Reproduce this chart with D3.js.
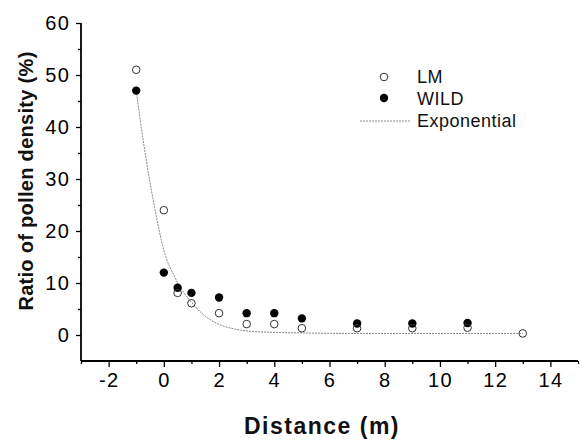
<!DOCTYPE html>
<html>
<head>
<meta charset="utf-8">
<script src="https://cdn.jsdelivr.net/npm/d3@7"></script>
<style>
  body { margin: 0; background: #fff; }
  svg text { font-family: "Liberation Sans", Arial, Helvetica, sans-serif; }
</style>
</head>
<body>
<svg id="chart" width="582" height="441"></svg>
<script>
// distances (m)
const lmX = [-1, 0, 0.5, 1, 2, 3, 4, 5, 7, 9, 11, 13]
const lmY = [51, 24, 8.1, 6.1, 4.2, 2.1, 2.1, 1.3, 1.3, 1.3, 1.4, 0.3]
const wildX = [-1, 0, 0.5, 1, 2, 3, 4, 5, 7, 9, 11]
const wildY = [47, 12, 9.1, 8.1, 7.2, 4.2, 4.2, 3.2, 2.2, 2.2, 2.3]
// exponential fit
const fitX = [-1, -0.73, -0.35, 0, 0.42, 1.08, 2.29, 3.5, 5, 7, 13]
const fitY = [47, 36.8, 25, 16.3, 10.9, 5.8, 1.5, 0.6, 0.4, 0.3, 0.3]

const xMajor = [-2, 0, 2, 4, 6, 8, 10, 12, 14]
const xMinor = [-3, -1, 1, 3, 5, 7, 9, 11, 13, 15]
const yMajor = [0, 10, 20, 30, 40, 50, 60]
const yMinor = [5, 15, 25, 35, 45, 55]

const svg = d3.select("#chart")

const x = d3.scaleLinear().domain([-3, 15]).range([81, 578])
const y = d3.scaleLinear().domain([-5, 60]).range([361, 23])

const axisY0 = y(-5), axisX0 = x(-3)
const plain = d => String(d)  // hyphen minus like the original

// x axis
const gx = svg.append("g").attr("transform", "translate(0," + axisY0 + ")")
gx.call(d3.axisBottom(x).tickValues(xMajor).tickSize(6).tickPadding(6).tickFormat(plain))
gx.append("g").call(d3.axisBottom(x).tickValues(xMinor).tickSize(3).tickFormat(""))
  .select(".domain").remove()

// y axis
const gy = svg.append("g").attr("transform", "translate(" + axisX0 + ",0)")
gy.call(d3.axisLeft(y).tickValues(yMajor).tickSize(5).tickPadding(6).tickFormat(plain))
gy.append("g").call(d3.axisLeft(y).tickValues(yMinor).tickSize(3).tickFormat(""))
  .select(".domain").remove()

// plain axis lines without end caps
gx.select(".domain").attr("d", "M" + x(-3) + ",0H" + x(15))
gy.select(".domain").attr("d", "M0," + y(-5) + "V" + y(60))
svg.selectAll(".domain").attr("stroke", "#000").attr("stroke-width", 1.8)
svg.selectAll(".tick line").attr("stroke", "#000").attr("stroke-width", 1.3)
svg.selectAll(".tick text")
  .attr("fill", "#000")
  .style("font-size", "20px")
  .style("letter-spacing", "1.2px")
gx.selectAll(".tick text").attr("dy", "0.72em")

// fit line
const fitPts = fitX.map((v, i) => [v, fitY[i]])
svg.append("path")
  .datum(fitPts)
  .attr("fill", "none")
  .attr("stroke", "#888")
  .attr("stroke-width", 1)
  .attr("stroke-dasharray", "2,1")
  .attr("d", d3.line().x(d => x(d[0])).y(d => y(d[1])).curve(d3.curveMonotoneX))

// WILD points
svg.append("g").selectAll("circle")
  .data(wildX.map((v, i) => [v, wildY[i]]))
  .join("circle")
  .attr("cx", d => x(d[0]))
  .attr("cy", d => y(d[1]))
  .attr("r", 4.2)
  .attr("fill", "#000")

// LM points
svg.append("g").selectAll("circle")
  .data(lmX.map((v, i) => [v, lmY[i]]))
  .join("circle")
  .attr("cx", d => x(d[0]))
  .attr("cy", d => y(d[1]))
  .attr("r", 3.8)
  .attr("fill", "none")
  .attr("stroke", "#333")
  .attr("stroke-width", 1)

// legend
const lg = svg.append("g")
lg.append("circle").attr("cx", 384).attr("cy", 77).attr("r", 3.8)
  .attr("fill", "none").attr("stroke", "#333").attr("stroke-width", 1)
lg.append("circle").attr("cx", 384).attr("cy", 98).attr("r", 4.2).attr("fill", "#000")
lg.append("line").attr("x1", 360).attr("x2", 410).attr("y1", 121).attr("y2", 121)
  .attr("stroke", "#888").attr("stroke-width", 1).attr("stroke-dasharray", "2,1")
const legendLabels = ["LM", "WILD", "Exponential"]
lg.selectAll("text.lab")
  .data(legendLabels)
  .join("text")
  .attr("class", "lab")
  .attr("x", 417)
  .attr("y", (d, i) => 83 + i * 22)
  .attr("fill", "#111")
  .style("font-size", "18px")
  .style("letter-spacing", "0.5px")
  .text(d => d)

// axis titles
svg.append("text")
  .attr("x", 322).attr("y", 434)
  .attr("text-anchor", "middle")
  .style("font-size", "23px").style("font-weight", "bold")
  .style("letter-spacing", "1.5px")
  .attr("fill", "#111")
  .text("Distance (m)")

svg.append("text")
  .attr("transform", "translate(33,181) rotate(-90)")
  .attr("text-anchor", "middle")
  .style("font-size", "20px").style("font-weight", "bold")
  .style("letter-spacing", "0.3px")
  .attr("fill", "#111")
  .text("Ratio of pollen density (%)")
</script>
</body>
</html>
